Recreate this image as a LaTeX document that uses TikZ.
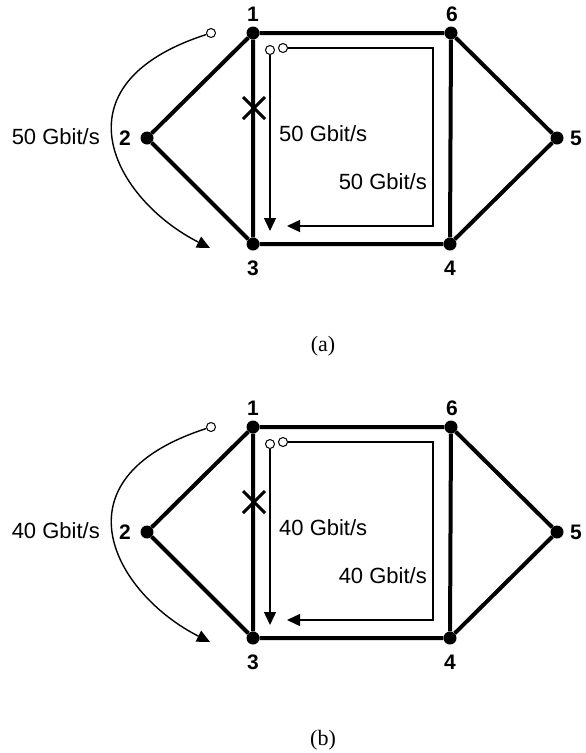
\documentclass[tikz,border=0pt]{standalone}
\usepackage{fontspec}
\setmainfont{Liberation Sans}
\newfontfamily\capfont{Liberation Serif}
\usetikzlibrary{arrows.meta}
\tikzset{
  dot/.style={circle, fill, inner sep=0pt, minimum size=13pt},
  opendot/.style={circle, draw, fill=white, line width=1pt, inner sep=0pt, minimum size=9pt},
  link/.style={line width=4pt},
  cross/.style={line width=3pt},
  flow/.style={line width=1.4pt, -{Triangle[length=13pt,width=12pt]}},
  num/.style={inner sep=0pt, font=\fontsize{21}{24}\selectfont\bfseries},
  rate/.style={inner sep=0pt, font=\fontsize{22}{26}\selectfont},
  caption/.style={inner sep=0pt, font=\fontsize{22}{26}\selectfont\capfont},
}
\begin{document}
\begin{tikzpicture}[x=1pt, y=-1pt]
    \useasboundingbox (0,0) rectangle (586,753);
    \begin{scope}
      \node[dot] (1) at (253,33){};
      \node[dot] (6) at (451,33){};
      \node[dot] (3) at (253,244){};
      \node[dot] (4) at (450,244){};
      \node[dot] (2) at (147,138){};
      \node[dot] (5) at (557,138){};
      \draw[link](1)--(6)--(4)--(3)--(1);
      \draw[link](1)--(2)--(3);
      \draw[link](6)--(5)--(4);
      \node[num] (l1) at (253,14){1};
      \node[num] (l6) at (452,14){6};
      \node[num] (l3) at (253,268){3};
      \node[num] (l4) at (450,268){4};
      \node[num] (l2) at (125,138){2};
      \node[num] (l5) at (576,138){5};
      \coordinate (x1) at (243,97);
      \coordinate (x2) at (265,119);
      \coordinate (x3) at (243,119);
      \coordinate (x4) at (265,97);
      \draw[cross](x1)--(x2);
      \draw[cross](x3)--(x4);
      \node[opendot] (s) at (211,33){};
      \coordinate (e) at (210,248);
      \draw[flow](s) .. controls (50,85) and (115,200) .. (e);
      \node[rate, anchor=east] (r0) at (100,137){50 Gbit/s};
      \node[opendot] (o1) at (270,50){};
      \coordinate (t1) at (270,231);
      \draw[flow](o1)--(t1);
      \node[opendot] (o2) at (283,48){};
      \coordinate (c1) at (433,48);
      \coordinate (c2) at (433,226);
      \coordinate (t2) at (287,226);
      \draw[flow](o2)--(c1)--(c2)--(t2);
      \node[rate, anchor=west] (r1) at (279,134){50 Gbit/s};
      \node[rate, anchor=east] (r2) at (427,182){50 Gbit/s};
      \node[caption] (a) at (323,346){(a)};
    \end{scope}
    \begin{scope}[shift={(0,394)}]
      \node[dot] (1) at (253,33){};
      \node[dot] (6) at (451,33){};
      \node[dot] (3) at (253,244){};
      \node[dot] (4) at (450,244){};
      \node[dot] (2) at (147,138){};
      \node[dot] (5) at (557,138){};
      \draw[link](1)--(6)--(4)--(3)--(1);
      \draw[link](1)--(2)--(3);
      \draw[link](6)--(5)--(4);
      \node[num] (l1) at (253,14){1};
      \node[num] (l6) at (452,14){6};
      \node[num] (l3) at (253,268){3};
      \node[num] (l4) at (450,268){4};
      \node[num] (l2) at (125,138){2};
      \node[num] (l5) at (576,138){5};
      \coordinate (x1) at (243,97);
      \coordinate (x2) at (265,119);
      \coordinate (x3) at (243,119);
      \coordinate (x4) at (265,97);
      \draw[cross](x1)--(x2);
      \draw[cross](x3)--(x4);
      \node[opendot] (s) at (211,33){};
      \coordinate (e) at (210,248);
      \draw[flow](s) .. controls (50,85) and (115,200) .. (e);
      \node[rate, anchor=east] (r0) at (100,137){40 Gbit/s};
      \node[opendot] (o1) at (270,50){};
      \coordinate (t1) at (270,231);
      \draw[flow](o1)--(t1);
      \node[opendot] (o2) at (283,48){};
      \coordinate (c1) at (433,48);
      \coordinate (c2) at (433,226);
      \coordinate (t2) at (287,226);
      \draw[flow](o2)--(c1)--(c2)--(t2);
      \node[rate, anchor=west] (r1) at (279,134){40 Gbit/s};
      \node[rate, anchor=east] (r2) at (427,182){40 Gbit/s};
      \node[caption] (b) at (323,346){(b)};
    \end{scope}
  \end{tikzpicture}
\end{document}
